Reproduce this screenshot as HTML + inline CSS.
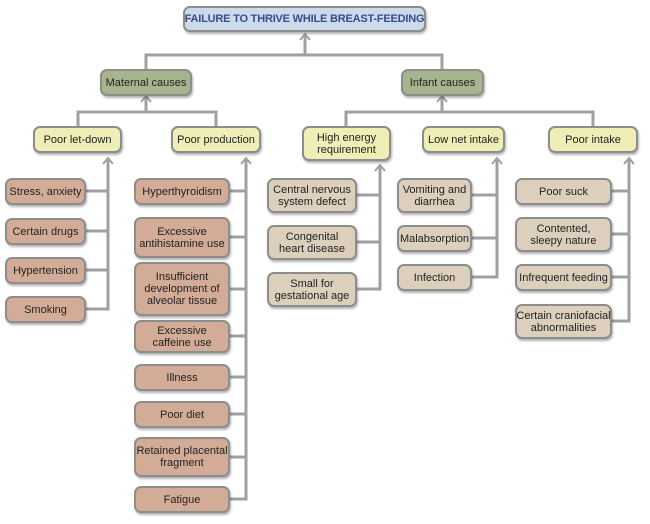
<!DOCTYPE html>
<html><head><meta charset="utf-8"><style>
body{margin:0;width:650px;height:524px;background:#fff;position:relative;overflow:hidden;font-family:"Liberation Sans",Arial,sans-serif}
.b{position:absolute;box-sizing:border-box;border:2px solid #8d8d8d;border-radius:7px;display:flex;align-items:center;justify-content:center;text-align:center;font-size:11px;line-height:12px;color:#222;box-shadow:1px 2px 2px rgba(0,0,0,.3);white-space:nowrap}
.t{background:#cbdbec;color:#3b4a8c;font-weight:bold;font-size:11px;letter-spacing:-0.2px}
.g{background:#a8b48e}
.y{background:#eeeeb6}
.r{background:#d3ac98}
.k{background:#dcd0bc}
svg{position:absolute;left:0;top:0}
</style></head><body>
<svg width="650" height="524" stroke="#a0a0a0" stroke-width="3" fill="none">
<path d="M305 36V55M146 69V55H442V69"/>
<path d="M146 98V112M78 126V112H216V126"/>
<path d="M442 98V112M346 126V112H593V126"/>
<path d="M108 160V309H86M108 191H86M108 231H86M108 270H86"/>
<path d="M246 160V499H230M246 191H230M246 237H230M246 289H230M246 336H230M246 377H230M246 414H230M246 457H230"/>
<path d="M380 167V289H357M380 195H357M380 242H357"/>
<path d="M497 160V277H472M497 195H472M497 238H472"/>
<path d="M629 160V321H612M629 191H612M629 234H612M629 277H612"/>
<g stroke-width="2"><path d="M300 40L305 34L310 40"/><path d="M141 102L146 96L151 102"/><path d="M437 102L442 96L447 102"/><path d="M103 164L108 158L113 164"/><path d="M241 164L246 158L251 164"/><path d="M375 171L380 165L385 171"/><path d="M492 164L497 158L502 164"/><path d="M624 164L629 158L634 164"/></g>
</svg>
<div class="b t" style="left:183px;top:6px;width:243px;height:26px">FAILURE TO THRIVE WHILE BREAST-FEEDING</div>
<div class="b g" style="left:100px;top:69px;width:92px;height:27px">Maternal causes</div>
<div class="b g" style="left:401px;top:69px;width:83px;height:27px">Infant causes</div>
<div class="b y" style="left:33px;top:126px;width:89px;height:27px">Poor let-down</div>
<div class="b y" style="left:171px;top:126px;width:90px;height:27px">Poor production</div>
<div class="b y" style="left:302px;top:126px;width:89px;height:35px">High energy<br>requirement</div>
<div class="b y" style="left:422px;top:126px;width:83px;height:27px">Low net intake</div>
<div class="b y" style="left:548px;top:126px;width:90px;height:27px">Poor intake</div>
<div class="b r" style="left:5px;top:178px;width:81px;height:27px">Stress, anxiety</div>
<div class="b r" style="left:5px;top:218px;width:81px;height:27px">Certain drugs</div>
<div class="b r" style="left:5px;top:257px;width:81px;height:27px">Hypertension</div>
<div class="b r" style="left:5px;top:296px;width:81px;height:27px">Smoking</div>
<div class="b r" style="left:134px;top:178px;width:96px;height:27px">Hyperthyroidism</div>
<div class="b r" style="left:134px;top:217px;width:96px;height:41px">Excessive<br>antihistamine use</div>
<div class="b r" style="left:134px;top:262px;width:96px;height:54px">Insufficient<br>development of<br>alveolar tissue</div>
<div class="b r" style="left:134px;top:320px;width:96px;height:33px">Excessive<br>caffeine use</div>
<div class="b r" style="left:134px;top:364px;width:96px;height:27px">Illness</div>
<div class="b r" style="left:134px;top:401px;width:96px;height:27px">Poor diet</div>
<div class="b r" style="left:134px;top:437px;width:96px;height:40px">Retained placental<br>fragment</div>
<div class="b r" style="left:134px;top:486px;width:96px;height:27px">Fatigue</div>
<div class="b k" style="left:267px;top:178px;width:90px;height:35px">Central nervous<br>system defect</div>
<div class="b k" style="left:267px;top:225px;width:90px;height:35px">Congenital<br>heart disease</div>
<div class="b k" style="left:267px;top:272px;width:90px;height:35px">Small for<br>gestational age</div>
<div class="b k" style="left:397px;top:178px;width:75px;height:35px">Vomiting and<br>diarrhea</div>
<div class="b k" style="left:397px;top:225px;width:75px;height:27px">Malabsorption</div>
<div class="b k" style="left:397px;top:264px;width:75px;height:27px">Infection</div>
<div class="b k" style="left:515px;top:178px;width:97px;height:27px">Poor suck</div>
<div class="b k" style="left:515px;top:217px;width:97px;height:35px">Contented,<br>sleepy nature</div>
<div class="b k" style="left:515px;top:264px;width:97px;height:27px">Infrequent feeding</div>
<div class="b k" style="left:515px;top:304px;width:97px;height:35px">Certain craniofacial<br>abnormalities</div>
</body></html>
